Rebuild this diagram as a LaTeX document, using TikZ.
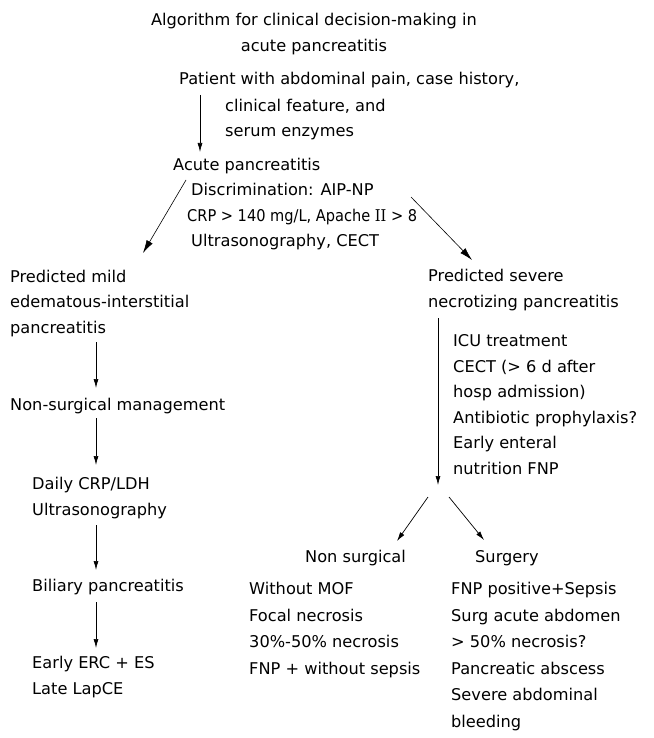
\documentclass[tikz,border=0pt]{standalone}
\usepackage{fontspec}
\setmainfont{DejaVu Sans}
\newfontfamily\narrowfont{DejaVu Sans Condensed}
\newfontfamily\romfont{DejaVu Serif Condensed}
\usepackage{tikz}
\usetikzlibrary{arrows.meta, positioning, calc}

\tikzset{
  txt/.style={anchor=base west, align=left, inner sep=0pt, font=\fontsize{16.2}{25.5}\selectfont},
  listtxt/.style={txt, font=\fontsize{16.2}{26.5}\selectfont},
  arr/.style={-{Latex[length=9pt,width=5pt]}, line width=0.7pt},
  bigarr/.style={-{Latex[length=13pt,width=7pt]}, line width=0.6pt}
}

\begin{document}
\begin{tikzpicture}[x=1pt,y=-1pt]
\useasboundingbox (0,0) rectangle (653,738);

% 标题 (多行节点: base = 最后一行)
\node[txt, anchor=base, align=center] (title) at (314,51.5) {Algorithm for clinical decision-making in\\acute pancreatitis};

% 入院
\node[txt] (patient) at (179,85) {Patient with abdominal pain, case history,};
\node[txt] (patientb) at (225,137) {clinical feature, and\\serum enzymes};
\node[txt] (acute) at (173,170.5) {Acute pancreatitis};
\node[txt] (disc) at (191,246.5) {Discrimination: AIP-NP\\
  \hspace*{-4pt}{\narrowfont CRP > 140 mg/L, Apache {\romfont II} > 8}\\
  Ultrasonography, CECT};

% 轻症
\node[txt] (mild) at (10,333) {Predicted mild\\edematous-interstitial\\pancreatitis};
\node[txt] (nonsurg) at (10,410.5) {Non-surgical management};
\node[txt] (daily) at (32,515) {Daily CRP/LDH\\Ultrasonography};
\node[txt] (biliary) at (32,591) {Biliary pancreatitis};
\node[txt] (early) at (32,694) {Early ERC + ES\\Late LapCE};

% 重症
\node[txt] (severe) at (428,307) {Predicted severe\\necrotizing pancreatitis};
\node[txt] (icu) at (453,474) {ICU treatment\\CECT (> 6 d after\\hosp admission)\\Antibiotic prophylaxis?\\Early enteral\\nutrition FNP};
\node[txt] (nonop) at (305,562) {Non surgical};
\node[txt] (surgery) at (475,562) {Surgery};
\node[listtxt] (nonoplist) at (249,674) {Without MOF\\Focal necrosis\\30\%-50\% necrosis\\FNP + without sepsis};
\node[listtxt] (surglist) at (451,727) {FNP positive+Sepsis\\Surg acute abdomen\\> 50\% necrosis?\\Pancreatic abscess\\Severe abdominal\\bleeding};

% 箭头端点
\coordinate (p1) at (200,95);  \coordinate (p2) at (200,152);
\coordinate (d1) at (186,180); \coordinate (d2) at (143,253);
\coordinate (s1) at (411,197); \coordinate (s2) at (472,260);
\coordinate (m1) at (96,342);  \coordinate (m2) at (96,388);
\coordinate (n1) at (96,418);  \coordinate (n2) at (96,465);
\coordinate (u1) at (96,525);  \coordinate (u2) at (96,570);
\coordinate (b1) at (96,602);  \coordinate (b2) at (96,648);
\coordinate (v1) at (438,318); \coordinate (v2) at (438,485);
\coordinate (k1) at (428,497); \coordinate (k2) at (397,541);
\coordinate (g1) at (449,497); \coordinate (g2) at (484,540);

\draw[arr] (p1) -- (p2);
\draw[bigarr] (d1) -- (d2);
\draw[bigarr] (s1) -- (s2);
\draw[arr] (m1) -- (m2);
\draw[arr] (n1) -- (n2);
\draw[arr] (u1) -- (u2);
\draw[arr] (b1) -- (b2);
\draw[arr] (v1) -- (v2);
\draw[arr] (k1) -- (k2);
\draw[arr] (g1) -- (g2);
\end{tikzpicture}
\end{document}
